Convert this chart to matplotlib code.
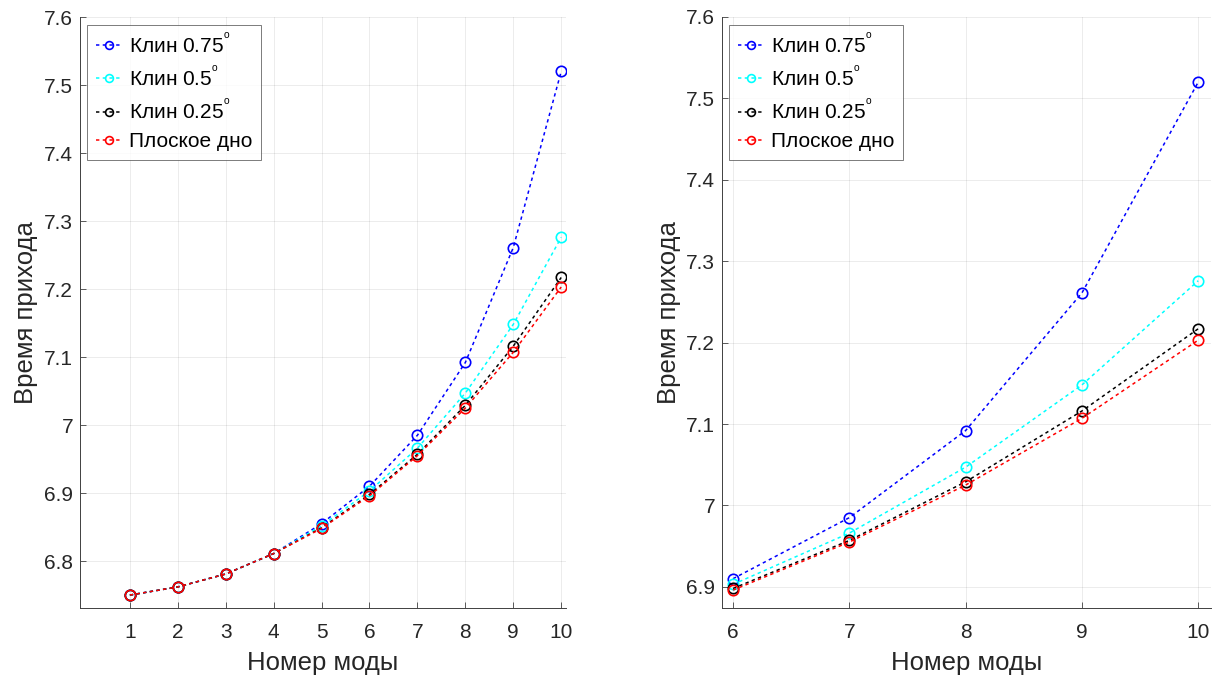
import matplotlib
matplotlib.use("Agg")
import matplotlib.pyplot as plt
from matplotlib.ticker import FuncFormatter

plt.rcParams['font.family'] = ['Liberation Sans', 'DejaVu Sans']
plt.rcParams['mathtext.fontset'] = 'custom'
plt.rcParams['mathtext.rm'] = 'Liberation Sans'
plt.rcParams['mathtext.it'] = 'Liberation Sans'

modes = [1, 2, 3, 4, 5, 6, 7, 8, 9, 10]
wedge_075 = [6.750, 6.762, 6.781, 6.811, 6.855, 6.910, 6.985, 7.092, 7.261, 7.520]
wedge_050 = [6.750, 6.762, 6.781, 6.811, 6.852, 6.903, 6.966, 7.047, 7.148, 7.276]
wedge_025 = [6.750, 6.762, 6.781, 6.811, 6.849, 6.898, 6.957, 7.029, 7.116, 7.217]
flat = [6.750, 6.762, 6.781, 6.811, 6.848, 6.896, 6.955, 7.025, 7.107, 7.203]

labels = ['Клин 0.75$^{{}^{o}}$', 'Клин 0.5$^{{}^{o}}$', 'Клин 0.25$^{{}^{o}}$', 'Плоское дно']
colors = ['#0000ff', '#00ffff', '#000000', '#ff0000']
series = [wedge_075, wedge_050, wedge_025, flat]

left_yticks = [6.8, 6.9, 7.0, 7.1, 7.2, 7.3, 7.4, 7.5, 7.6]
right_yticks = [6.9, 7.0, 7.1, 7.2, 7.3, 7.4, 7.5, 7.6]

fig = plt.figure(figsize=(12.23, 6.79), dpi=100)
W, H = 1223, 679
ax1 = fig.add_axes([80 / W, 1 - 608 / H, 486 / W, 591 / H])
ax2 = fig.add_axes([722 / W, 1 - 608 / H, 489 / W, 591 / H])

fmt = FuncFormatter(lambda v, p: '%g' % round(v, 3))


def setup(ax, start, xlim, ylim, yticks, xticks):
    for s, c, lab in zip(series, colors, labels):
        ax.plot(modes[start:], s[start:], linestyle='--', dashes=(2.2, 2.2),
                color=c, lw=1.1, marker='o', ms=7.5, mfc='none', mec=c, mew=1.2,
                label=lab)
    ax.set_xlim(*xlim)
    ax.set_ylim(*ylim)
    ax.set_xticks(xticks)
    ax.set_yticks(yticks)
    ax.yaxis.set_major_formatter(fmt)
    ax.grid(True, color='#262626', alpha=0.1, lw=0.6)
    ax.spines['top'].set_visible(False)
    ax.spines['right'].set_visible(False)
    for sp in ('left', 'bottom'):
        ax.spines[sp].set_color('#404040')
        ax.spines[sp].set_linewidth(0.7)
    ax.tick_params(axis='x', pad=11)
    ax.tick_params(axis='y', pad=5)
    ax.tick_params(direction='in', length=4, width=0.6, color='#404040',
                   labelsize=15, labelcolor='#262626')
    ax.set_xlabel('Номер моды', fontsize=18.5, color='#262626', labelpad=6)
    ax.set_ylabel('Время прихода', fontsize=18.5, color='#262626', labelpad=4)
    leg = ax.legend(loc='upper left', bbox_to_anchor=(0.015, 0.987), fontsize=15,
                    frameon=True, fancybox=False, edgecolor='#404040',
                    handlelength=1.25, handletextpad=0.35, borderpad=0.4,
                    labelspacing=0.45, borderaxespad=0.0, markerscale=0.75)
    leg.get_frame().set_linewidth(0.6)


setup(ax1, 0, (-0.04, 10.1), (6.731, 7.6), left_yticks, modes)
setup(ax2, 5, (5.905, 10.11), (6.874, 7.6), right_yticks, modes[5:])

fig.savefig('out.png', dpi=100)
